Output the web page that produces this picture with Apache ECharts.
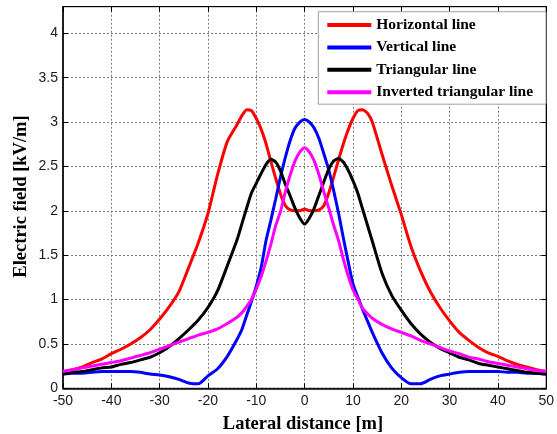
<!DOCTYPE html>
<html>
<head>
<meta charset="utf-8">
<script src="https://cdn.jsdelivr.net/npm/echarts@6/dist/echarts.min.js"></script>
<style>
  html, body { margin: 0; padding: 0; background: #fff; }
  #chart { width: 557px; height: 434px; }
</style>
</head>
<body>
<div id="chart"></div>
<script>
// Lateral distance from the line centre [m]
const distance = [
  -50, -48, -46, -44, -42, -40, -38, -36, -34, -32, -30, -28, -26, -24, -22, -20, -18, -16,
  -14, -13, -12, -11, -10, -9, -8, -7, -6, -5, -4, -3, -2, -1, 0, 1, 2, 3, 4, 5, 6, 7, 8, 9, 10, 11, 12, 13, 14,
  16, 18, 20, 22, 24, 26, 28, 30, 32, 34, 36, 38, 40, 42, 44, 46, 48, 50
];

// Electric field [kV/m] for each conductor arrangement
const horizontalLine = [
  0.19, 0.21, 0.24, 0.29, 0.33, 0.39, 0.44, 0.50, 0.57, 0.66, 0.78, 0.92, 1.09, 1.36, 1.64, 1.97, 2.41, 2.78,
  2.97, 3.07, 3.14, 3.13, 3.04, 2.92, 2.76, 2.56, 2.37, 2.19, 2.06, 2.01, 2.00, 2.00, 2.02, 2.00, 2.00, 2.01, 2.06, 2.20, 2.38, 2.57, 2.75, 2.91, 3.04, 3.13, 3.14, 3.10, 3.00,
  2.64, 2.29, 1.96, 1.60, 1.32, 1.09, 0.91, 0.76, 0.63, 0.54, 0.46, 0.40, 0.36, 0.31, 0.27, 0.24, 0.21, 0.19
];
const verticalLine = [
  0.16, 0.17, 0.17, 0.18, 0.19, 0.19, 0.19, 0.19, 0.18, 0.16, 0.15, 0.13, 0.10, 0.06, 0.05, 0.14, 0.22, 0.36,
  0.55, 0.66, 0.82, 0.98, 1.15, 1.36, 1.66, 1.89, 2.13, 2.38, 2.60, 2.79, 2.93, 3.00, 3.03, 3.00, 2.93, 2.81, 2.64, 2.46, 2.23, 1.98, 1.70, 1.43, 1.18, 1.03, 0.89, 0.76, 0.63,
  0.40, 0.23, 0.12, 0.05, 0.05, 0.10, 0.14, 0.16, 0.18, 0.19, 0.19, 0.19, 0.19, 0.18, 0.18, 0.17, 0.17, 0.16
];
const triangularLine = [
  0.16, 0.18, 0.19, 0.21, 0.23, 0.24, 0.27, 0.29, 0.32, 0.35, 0.40, 0.47, 0.56, 0.66, 0.77, 0.91, 1.10, 1.38,
  1.67, 1.85, 2.03, 2.20, 2.31, 2.42, 2.52, 2.58, 2.55, 2.45, 2.30, 2.17, 2.03, 1.92, 1.85, 1.92, 2.03, 2.18, 2.33, 2.47, 2.56, 2.59, 2.55, 2.46, 2.34, 2.20, 2.02, 1.84, 1.66,
  1.30, 1.05, 0.88, 0.73, 0.61, 0.52, 0.45, 0.40, 0.35, 0.32, 0.28, 0.26, 0.24, 0.22, 0.20, 0.18, 0.17, 0.16
];
const invertedTriangularLine = [
  0.19, 0.21, 0.23, 0.25, 0.27, 0.29, 0.31, 0.34, 0.37, 0.40, 0.44, 0.48, 0.52, 0.56, 0.60, 0.63, 0.67, 0.73,
  0.80, 0.85, 0.92, 1.00, 1.12, 1.26, 1.43, 1.62, 1.83, 1.99, 2.21, 2.40, 2.56, 2.66, 2.71, 2.66, 2.56, 2.40, 2.21, 2.03, 1.84, 1.67, 1.46, 1.27, 1.11, 1.01, 0.90, 0.84, 0.79,
  0.72, 0.67, 0.63, 0.59, 0.54, 0.50, 0.46, 0.42, 0.39, 0.35, 0.33, 0.30, 0.28, 0.26, 0.24, 0.22, 0.20, 0.19
];

const seriesNames = ['Horizontal line', 'Vertical line', 'Triangular line', 'Inverted triangular line'];
const seriesColors = ['#ff0000', '#0000ff', '#000000', '#ff00ff'];
const seriesValues = [horizontalLine, verticalLine, triangularLine, invertedTriangularLine];

const xTitle = 'Lateral distance [m]';
const yTitle = 'Electric field [kV/m]';

const serifBold = { fontFamily: '"Liberation Serif", "Times New Roman", serif', fontWeight: 'bold' };
const tickFont = { fontFamily: '"Liberation Sans", Arial, sans-serif', fontSize: 14, color: '#1a1a1a' };
const gridLine = { show: true, lineStyle: { color: '#7a7a7a', type: [2, 2], width: 1 } };

const chart = echarts.init(document.getElementById('chart'), null, { renderer: 'canvas' });

chart.setOption({
  animation: false,
  backgroundColor: '#ffffff',
  grid: {
    left: 63, right: 8.5, top: 6.7, bottom: 45.7,
    show: true, borderColor: '#000', borderWidth: 1, backgroundColor: '#fff'
  },
  xAxis: [
    {
      type: 'value', min: -50, max: 50, interval: 10, position: 'bottom',
      axisLine: { show: true, onZero: false, lineStyle: { color: '#000', width: 1.5 } },
      axisTick: { show: true, inside: true, length: 5, lineStyle: { color: '#000' } },
      axisLabel: Object.assign({ margin: 6 }, tickFont),
      splitLine: gridLine
    },
    {
      type: 'value', min: -50, max: 50, interval: 10, position: 'top',
      axisLine: { show: true, onZero: false, lineStyle: { color: '#000', width: 1 } },
      axisTick: { show: true, inside: true, length: 5, lineStyle: { color: '#000' } },
      axisLabel: { show: false },
      splitLine: { show: false }
    }
  ],
  yAxis: [
    {
      type: 'value', min: 0, max: 4.3, interval: 0.5, position: 'left',
      axisLine: { show: true, onZero: false, lineStyle: { color: '#000', width: 1.5 } },
      axisTick: { show: true, inside: true, length: 5, lineStyle: { color: '#000' } },
      axisLabel: Object.assign({
        margin: 5,
        formatter: v => (v > 4.01 ? '' : String(v))
      }, tickFont),
      splitLine: gridLine
    },
    {
      type: 'value', min: 0, max: 4.3, interval: 0.5, position: 'right',
      axisLine: { show: true, onZero: false, lineStyle: { color: '#000', width: 1 } },
      axisTick: { show: true, inside: true, length: 5, lineStyle: { color: '#000' } },
      axisLabel: { show: false },
      splitLine: { show: false }
    }
  ],
  legend: {
    orient: 'vertical',
    left: 318.3, top: 11.7,
    padding: [5.3, 13, 4, 9],
    itemWidth: 44, itemHeight: 4, itemGap: 6.4,
    icon: 'rect',
    backgroundColor: '#fff',
    borderColor: '#a0a0a0', borderWidth: 1, borderRadius: 0,
    textStyle: Object.assign({ fontSize: 15.5, lineHeight: 16, color: '#000' }, serifBold),
    data: seriesNames
  },
  series: seriesNames.map((name, k) => ({
    name: name,
    type: 'line',
    xAxisIndex: 0, yAxisIndex: 0,
    data: distance.map((d, i) => [d, seriesValues[k][i]]),
    showSymbol: false,
    symbol: 'none',
    smooth: 0.2,
    color: seriesColors[k],
    lineStyle: { color: seriesColors[k], width: 3 },
    z: 3 + k
  })),
  graphic: [
    {
      type: 'text', x: 303, y: 424,
      style: Object.assign({ text: xTitle, fontSize: 18.5, fill: '#000', textAlign: 'center', textVerticalAlign: 'middle' }, serifBold)
    },
    {
      type: 'text', x: 21.7, y: 196.5, rotation: Math.PI / 2,
      style: Object.assign({ text: yTitle, fontSize: 18.5, fill: '#000', textAlign: 'center', textVerticalAlign: 'middle' }, serifBold)
    }
  ]
});
</script>
</body>
</html>
